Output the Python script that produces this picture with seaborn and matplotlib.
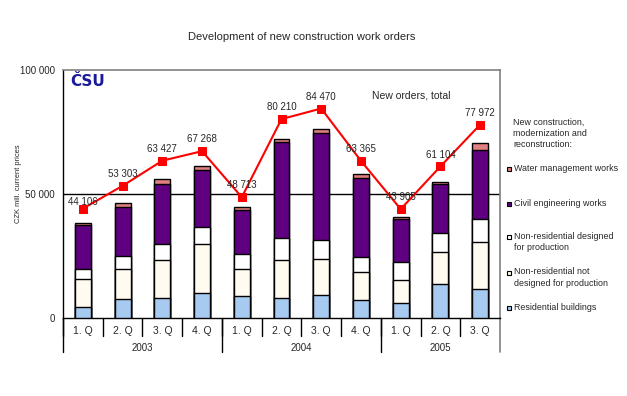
import numpy as np
import pandas as pd
import matplotlib
matplotlib.use("Agg")
import matplotlib.pyplot as plt
import matplotlib.transforms as mtransforms
from matplotlib.patches import Rectangle
import seaborn as sns

# values, CZK mill.
years = ["2003", "2004", "2005"]
quarters = ["1. Q", "2. Q", "3. Q", "4. Q", "1. Q", "2. Q", "3. Q", "4. Q", "1. Q", "2. Q", "3. Q"]
period_year = ["2003"] * 4 + ["2004"] * 4 + ["2005"] * 3
residential = [4300, 7500, 7900, 10000, 8700, 7900, 9100, 7100, 5900, 13600, 11600]
nonres_not_prod = [11300, 12100, 15400, 19700, 10900, 15400, 14600, 11300, 9300, 12900, 18900]
nonres_prod = [4000, 5300, 6400, 6900, 6100, 8800, 7600, 6100, 7300, 7700, 9300]
civil = [17800, 20000, 24200, 22900, 17700, 38700, 43200, 31800, 17300, 19700, 27800]
water = [800, 1300, 2100, 1700, 1400, 1200, 1600, 1600, 800, 800, 2800]
total_orders = [44106, 53303, 63427, 67268, 48713, 80210, 84470, 63365, 43905, 61104, 77972]

series_names = ["Residential buildings",
                "Non-residential not\ndesigned for production",
                "Non-residential designed\nfor production",
                "Civil engineering works",
                "Water management works"]
colors = ["#A6CAF0", "#FFFBF0", "#FFFFFF", "#5E0080", "#E08080"]

df = pd.DataFrame({
    "period": [f"{y} {q}" for y, q in zip(period_year, quarters)],
    "total": total_orders,
})
stack = np.cumsum(np.array([residential, nonres_not_prod, nonres_prod, civil, water]), axis=0)
for name, vals in zip(series_names, stack):
    df[name] = vals

sns.set_style("white")
plt.rcParams["font.family"] = ["Liberation Sans", "DejaVu Sans"]
FS = 7
LFS = 6.4

fig = plt.figure(figsize=(6.27, 3.96), dpi=100)
ax = fig.add_axes([63 / 627, 78 / 396, 437 / 627, 248 / 396])

# stacked bars: draw cumulative sums from the top segment down
for name, col in reversed(list(zip(series_names, colors))):
    sns.barplot(data=df, x="period", y=name, color=col, saturation=1,
                width=0.4, edgecolor="black", linewidth=1, ax=ax, zorder=3)

pos = np.arange(len(df))
sns.lineplot(x=pos, y=df["total"], color="red", marker="s", markersize=6,
             markeredgecolor="red", linewidth=1.5, ax=ax, zorder=5)

for i, v in enumerate(total_orders):
    off = 5 if i == 0 else 8.6
    label = f"{v:,}".replace(",", " ")
    ax.annotate(label, (i, v), xytext=(0, off), textcoords="offset points",
                ha="center", va="center", fontsize=FS, zorder=6)

ax.set_xlim(-0.5, len(df) - 0.5)
ax.set_ylim(0, 100000)
ax.set_yticks([0, 50000, 100000])
ax.set_yticklabels(["0", "50 000", "100 000"], fontsize=FS)
ax.tick_params(axis="y", direction="inout", length=6, width=1, color="black", pad=3)
ax.set_xticks([])
ax.set_xlabel("")
ax.set_ylabel("CZK mill. current prices", fontsize=5.4)
ax.yaxis.set_label_coords(-0.093, 0.542)
ax.axhline(50000, color="black", linewidth=1, zorder=2)

for side in ["left", "bottom"]:
    ax.spines[side].set_color("black")
    ax.spines[side].set_linewidth(1)
for side in ["top", "right"]:
    ax.spines[side].set_color("#808080")
    ax.spines[side].set_linewidth(1.2)

# two-level category axis
trans = mtransforms.blended_transform_factory(ax.transData, ax.transAxes)
for i, q in enumerate(quarters):
    ax.text(i, -0.052, q, transform=trans, ha="center", va="center", fontsize=7.5)
    ax.plot([i - 0.5, i - 0.5], [0, -0.072], transform=trans, color="black",
            linewidth=1, clip_on=False)
edges = [-0.5, 3.5, 7.5]
for y, a, b in zip(years, edges, edges[1:] + [len(df) - 0.5]):
    ax.text((a + b) / 2, -0.121, y, transform=trans, ha="center", va="center", fontsize=FS)
    ax.plot([a, a], [0, -0.138], transform=trans, color="black", linewidth=1, clip_on=False)
ax.plot([len(df) - 0.5] * 2, [0, -0.138], transform=trans, color="#808080",
        linewidth=1.2, clip_on=False)

ax.text(0.016, 0.952, "ČSU", transform=ax.transAxes, fontsize=11, fontweight="bold",
        family=["DejaVu Sans"], color="#1A1A9A", ha="left", va="center")
ax.text(7.27, 89900, "New orders, total", fontsize=7.5, ha="left", va="center")

fig.text(302 / 627, 1 - 37 / 396, "Development of new construction work orders",
         ha="center", va="center", fontsize=8)

# legend
fig.text(513 / 627, 1 - 118 / 396, "New construction,\nmodernization and\nreconstruction:",
         ha="left", va="top", fontsize=LFS, linespacing=1.3)
legend_y = [169, 204, 237, 272.5, 308]
for name, col, yy in zip(reversed(series_names), reversed(colors), legend_y):
    fig.patches.append(Rectangle((506.5 / 627, 1 - (yy + 2) / 396), 4 / 627, 4 / 396,
                                 facecolor=col, edgecolor="black", linewidth=0.8,
                                 transform=fig.transFigure))
    fig.text(513.5 / 627, 1 - (yy - 5) / 396, name, ha="left", va="top",
             fontsize=LFS, linespacing=1.3)

fig.savefig("out.png", dpi=100)
